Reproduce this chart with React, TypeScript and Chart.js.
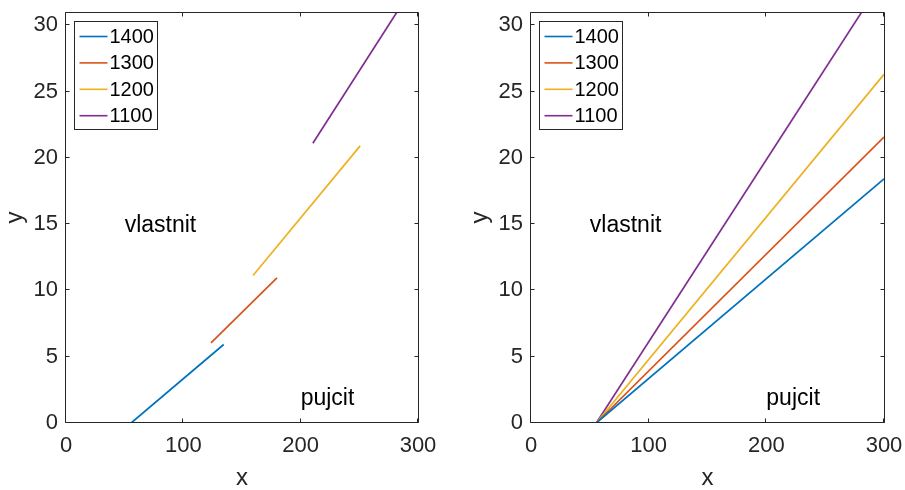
import React, { useEffect, useRef } from "react";
import { Chart, registerables } from "chart.js";

Chart.register(...registerables);

const FONT = "'Liberation Sans', Arial, Helvetica, sans-serif";
const AXIS_COLOR = "#262626";

// Series names and colours (one line per price level)
const seriesNames = ["1400", "1300", "1200", "1100"];
const seriesColors = ["#0072BD", "#D95319", "#EDB120", "#7E2F8E"];

// Left panel: each price level only over its own x-range
const left1400X = [55.5, 134.4];
const left1400Y = [0, 5.92];
const left1300X = [123.6, 179.8];
const left1300Y = [6.04, 10.94];
const left1200X = [159.4, 250.7];
const left1200Y = [11.12, 20.9];
const left1100X = [210.4, 282.1];
const left1100Y = [21.1, 31];

// Right panel: full lines from the break-even point to x = 300
const rightX = [55.5, 300];
const right1400Y = [0, 18.42];
const right1300Y = [0, 21.57];
const right1200Y = [0, 26.3];
const right1100Y = [0, 33.6];

// Axes
const xTicks = [0, 100, 200, 300];
const yTicks = [0, 5, 10, 15, 20, 25, 30];
const xMin = 0;
const xMax = 300;
const yMin = 0;
const yMax = 31;

// Region annotations
const noteTexts = ["vlastnit", "pujcit"];
const noteX = [50, 200];
const noteY = [15, 2];

const toPoints = (xs: number[], ys: number[]) => xs.map((x, i) => ({ x, y: ys[i] }));

const leftSeries = [
  toPoints(left1400X, left1400Y),
  toPoints(left1300X, left1300Y),
  toPoints(left1200X, left1200Y),
  toPoints(left1100X, left1100Y),
];
const rightSeries = [
  toPoints(rightX, right1400Y),
  toPoints(rightX, right1300Y),
  toPoints(rightX, right1200Y),
  toPoints(rightX, right1100Y),
];

// Box around the plot area with inward tick marks on all four sides
const framePlugin = {
  id: "frame",
  afterDatasetsDraw(chart: any) {
    const { ctx, chartArea, scales } = chart;
    const l = chartArea.left - 0.5;
    const r = chartArea.right + 0.5;
    const t = chartArea.top + 0.5;
    const b = chartArea.bottom - 0.5;
    const tl = 4;
    ctx.save();
    ctx.strokeStyle = AXIS_COLOR;
    ctx.lineWidth = 1;
    ctx.beginPath();
    ctx.moveTo(l, t);
    ctx.lineTo(r, t);
    ctx.lineTo(r, b);
    ctx.lineTo(l, b);
    ctx.closePath();
    for (const v of xTicks) {
      const px = Math.round(scales.x.getPixelForValue(v)) - 0.5;
      ctx.moveTo(px, b);
      ctx.lineTo(px, b - tl);
      ctx.moveTo(px, t);
      ctx.lineTo(px, t + tl);
    }
    for (const v of yTicks) {
      const py = Math.round(scales.y.getPixelForValue(v)) - 0.5;
      ctx.moveTo(l, py);
      ctx.lineTo(l + tl, py);
      ctx.moveTo(r, py);
      ctx.lineTo(r - tl, py);
    }
    ctx.stroke();
    ctx.restore();
  },
};

// Text labels placed at data coordinates
const notesPlugin = {
  id: "notes",
  afterDatasetsDraw(chart: any) {
    const { ctx, scales } = chart;
    ctx.save();
    ctx.fillStyle = "#000000";
    ctx.font = `23px ${FONT}`;
    ctx.textAlign = "left";
    ctx.textBaseline = "middle";
    noteTexts.forEach((txt, i) => {
      const px = scales.x.getPixelForValue(noteX[i]);
      const py = scales.y.getPixelForValue(noteY[i]);
      ctx.fillText(txt, px, py + 2);
    });
    ctx.restore();
  },
};

// Boxed legend in the upper-left corner of the plot area
const legendBoxPlugin = {
  id: "legendBox",
  afterDraw(chart: any) {
    const { ctx, chartArea } = chart;
    const bx = chartArea.left + 8.5;
    const by = chartArea.top + 9.5;
    const bw = 83;
    const bh = 108;
    ctx.save();
    ctx.fillStyle = "#ffffff";
    ctx.fillRect(bx, by, bw, bh);
    ctx.strokeStyle = AXIS_COLOR;
    ctx.lineWidth = 1;
    ctx.strokeRect(bx, by, bw, bh);
    ctx.font = `20px ${FONT}`;
    ctx.textAlign = "left";
    ctx.textBaseline = "middle";
    chart.data.datasets.forEach((ds: any, i: number) => {
      const cy = by + 15 + i * 26.4;
      ctx.strokeStyle = ds.borderColor;
      ctx.lineWidth = 1.6;
      ctx.beginPath();
      ctx.moveTo(bx + 5, cy);
      ctx.lineTo(bx + 33, cy);
      ctx.stroke();
      ctx.fillStyle = "#000000";
      ctx.fillText(ds.label, bx + 35, cy + 1);
    });
    ctx.restore();
  },
};

type PanelProps = {
  left: number;
  width: number;
  padRight: number;
  series: { x: number; y: number }[][];
};

function Panel({ left, width, padRight, series }: PanelProps) {
  const ref = useRef<HTMLCanvasElement | null>(null);

  useEffect(() => {
    if (!ref.current) return;
    const chart = new Chart(ref.current, {
      type: "line",
      data: {
        datasets: series.map((pts, i) => ({
          label: seriesNames[i],
          data: pts,
          borderColor: seriesColors[i],
          backgroundColor: seriesColors[i],
          borderWidth: 1.7,
          pointRadius: 0,
          fill: false,
          tension: 0,
          clip: 0,
        })),
      },
      options: {
        animation: false,
        responsive: false,
        devicePixelRatio: 1,
        events: [],
        layout: { padding: { left: 0, top: 12, right: padRight, bottom: 0 } },
        plugins: {
          legend: { display: false },
          tooltip: { enabled: false },
        },
        scales: {
          x: {
            type: "linear",
            min: xMin,
            max: xMax,
            grid: { display: false, drawTicks: false },
            border: { display: false },
            ticks: {
              color: AXIS_COLOR,
              font: { family: FONT, size: 22 },
              padding: 10,
              maxRotation: 0,
              autoSkip: false,
            },
            title: {
              display: true,
              text: "x",
              color: AXIS_COLOR,
              font: { family: FONT, size: 24 },
              padding: { top: 0, bottom: -3 },
            },
            afterBuildTicks: (s: any) => {
              s.ticks = xTicks.map((v) => ({ value: v }));
            },
            afterFit: (s: any) => {
              s.height = 67;
              s.paddingLeft = 0;
              s.paddingRight = 0;
            },
          },
          y: {
            type: "linear",
            min: yMin,
            max: yMax,
            grid: { display: false, drawTicks: false },
            border: { display: false },
            ticks: {
              color: AXIS_COLOR,
              font: { family: FONT, size: 22 },
              padding: 8,
              autoSkip: false,
            },
            title: {
              display: true,
              text: "y",
              color: AXIS_COLOR,
              font: { family: FONT, size: 24 },
              padding: { top: 1, bottom: 0 },
            },
            afterBuildTicks: (s: any) => {
              s.ticks = yTicks.map((v) => ({ value: v }));
            },
            afterFit: (s: any) => {
              s.width = 66;
              s.paddingTop = 0;
              s.paddingBottom = 0;
            },
          },
        },
      } as any,
      plugins: [framePlugin, notesPlugin, legendBoxPlugin],
    });
    return () => chart.destroy();
  }, [series, padRight]);

  return (
    <canvas
      ref={ref}
      width={width}
      height={490}
      style={{ position: "absolute", left, top: 0, width, height: 490 }}
    />
  );
}

export default function App() {
  return (
    <div
      style={{
        position: "absolute",
        left: 0,
        top: 0,
        width: 905,
        height: 490,
        background: "#ffffff",
        overflow: "hidden",
      }}
    >
      <Panel left={0} width={452} padRight={34} series={leftSeries} />
      <Panel left={465} width={440} padRight={21} series={rightSeries} />
    </div>
  );
}
